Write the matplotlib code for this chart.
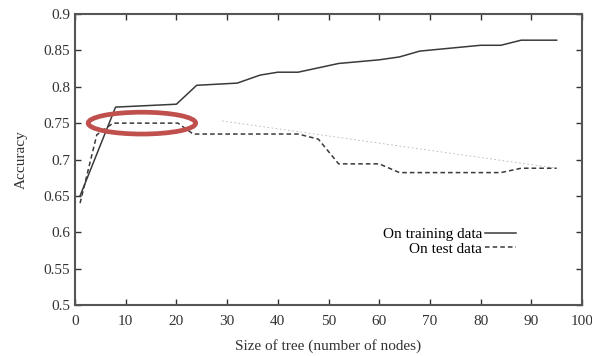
import matplotlib
matplotlib.use("Agg")
import matplotlib.pyplot as plt
from matplotlib.patches import Ellipse

plt.rcParams['font.family'] = ['Liberation Serif', 'DejaVu Serif']

# accuracy vs tree size
train_x = [1, 8, 20, 24, 32, 36.5, 40, 44, 52, 60, 64, 68, 80, 84, 88, 95]
train_y = [0.65, 0.772, 0.776, 0.802, 0.805, 0.816, 0.82, 0.82, 0.832, 0.837,
           0.841, 0.849, 0.857, 0.857, 0.864, 0.864]
test_x = [1, 4.3, 7.5, 20.3, 23.3, 44, 48, 52, 60, 64, 84, 88, 95]
test_y = [0.64, 0.734, 0.75, 0.75, 0.735, 0.735, 0.728, 0.694, 0.694, 0.682,
          0.682, 0.688, 0.688]
faint_x = [29, 95]
faint_y = [0.753, 0.688]

xticks = list(range(0, 101, 10))
yticks = [0.5, 0.55, 0.6, 0.65, 0.7, 0.75, 0.8, 0.85, 0.9]
ytick_labels = ['0.5', '0.55', '0.6', '0.65', '0.7', '0.75', '0.8', '0.85', '0.9']

fig = plt.figure(figsize=(5.92, 3.56), dpi=100)
ax = fig.add_axes([75 / 592, 51 / 356, 507 / 592, 291 / 356])

line_col = '#3a3a3a'
ax.plot(faint_x, faint_y, color='#b5b5b5', lw=0.6, ls=(0, (2, 3)))
ax.plot(train_x, train_y, color=line_col, lw=1.1, label='On training data')
ax.plot(test_x, test_y, color=line_col, lw=1.1, ls=(0, (3, 2)), label='On test data')

ax.add_patch(Ellipse((13.2, 0.750), 21.2, 0.030, fill=False,
                     edgecolor='#c0504d', lw=3.4, zorder=5))

ax.set_xlim(0, 100)
ax.set_ylim(0.5, 0.9)
ax.set_xticks(xticks)
ax.set_yticks(yticks)
ax.set_yticklabels(ytick_labels)
ax.tick_params(direction='in', top=True, right=True, length=4, width=1,
               labelsize=11, colors='#333333')
ax.tick_params(axis='x', pad=7)
for sp in ax.spines.values():
    sp.set_linewidth(1.5)
    sp.set_color('#555555')

ax.set_xlabel('Size of tree (number of nodes)', fontsize=11, color='#333333', labelpad=8)
ax.set_ylabel('Accuracy', fontsize=11, color='#333333', labelpad=11)

ax.legend(loc='upper left', bbox_to_anchor=(0.595, 0.287), frameon=False,
          markerfirst=False, fontsize=11, handlelength=2.0, handletextpad=0.2,
          labelspacing=0.05, borderaxespad=0)
for t in ax.get_legend().get_texts():
    t.set_ha('right')

fig.savefig('out.png', dpi=100)
